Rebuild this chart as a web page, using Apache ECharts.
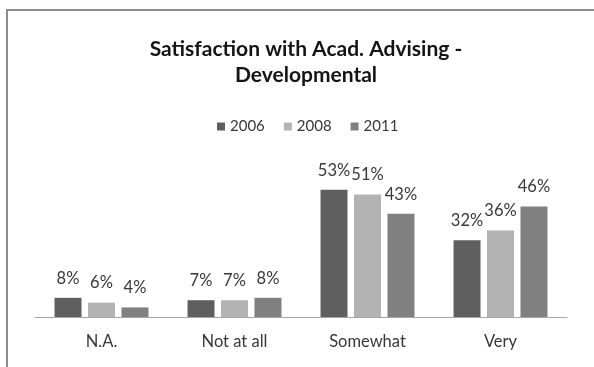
<!DOCTYPE html>
<html>
<head>
<meta charset="utf-8">
<script src="https://cdn.jsdelivr.net/npm/echarts@6/dist/echarts.min.js"></script>
<style>
  html, body { margin: 0; padding: 0; background: #fff; }
  #chart { width: 594px; height: 367px; }
</style>
</head>
<body>
<div id="chart"></div>
<script>
// Response categories and yearly shares (percent)
const categories = ['N.A.', 'Not at all', 'Somewhat', 'Very'];
const years = ['2006', '2008', '2011'];
const values2006 = [8, 7, 53, 32];
const values2008 = [6, 7, 51, 36];
const values2011 = [4, 8, 43, 46];
const yearColors = ['#5f5f5f', '#b3b3b3', '#808080'];

const FONT = 'Lato';
const TEXT = '#383838';

const seriesValues = [values2006, values2008, values2011];

const chart = echarts.init(document.getElementById('chart'), null, { renderer: 'canvas' });

chart.setOption({
  animation: false,
  backgroundColor: '#ffffff',
  title: {
    text: 'Satisfaction with Acad. Advising -\nDevelopmental',
    left: 301,
    top: 31,
    textAlign: 'center',
    textStyle: {
      fontFamily: FONT,
      fontWeight: 'bold',
      fontSize: 21,
      lineHeight: 26,
      color: '#141414'
    }
  },
  legend: {
    data: years,
    left: 212,
    top: 114,
    itemWidth: 8,
    itemHeight: 8,
    itemGap: 19,
    icon: 'rect',
    textStyle: { fontFamily: FONT, fontSize: 15, color: TEXT }
  },
  grid: { left: 35, right: 27, top: 173, bottom: 50 },
  xAxis: {
    type: 'category',
    data: categories,
    axisLine: { lineStyle: { color: '#a6a6a6', width: 1 } },
    axisTick: { show: false },
    axisLabel: { fontFamily: FONT, fontSize: 16.5, color: TEXT, margin: 16 }
  },
  yAxis: {
    type: 'value',
    min: 0,
    max: 60,
    show: false,
    splitLine: { show: false }
  },
  series: years.map((y, i) => ({
    name: y,
    type: 'bar',
    data: seriesValues[i],
    barWidth: 27,
    barGap: '24%',
    itemStyle: { color: yearColors[i] },
    label: {
      show: true,
      position: 'top',
      distance: 11,
      formatter: '{c}%',
      fontFamily: FONT,
      fontSize: 16.5,
      color: TEXT
    }
  })),
  graphic: [
    { type: 'line', shape: { x1: 6, y1: 10, x2: 594, y2: 10 }, style: { stroke: '#8c8c8c', lineWidth: 2 } },
    { type: 'line', shape: { x1: 7, y1: 9, x2: 7, y2: 367 }, style: { stroke: '#8c8c8c', lineWidth: 2 } }
  ]
});
</script>
</body>
</html>
